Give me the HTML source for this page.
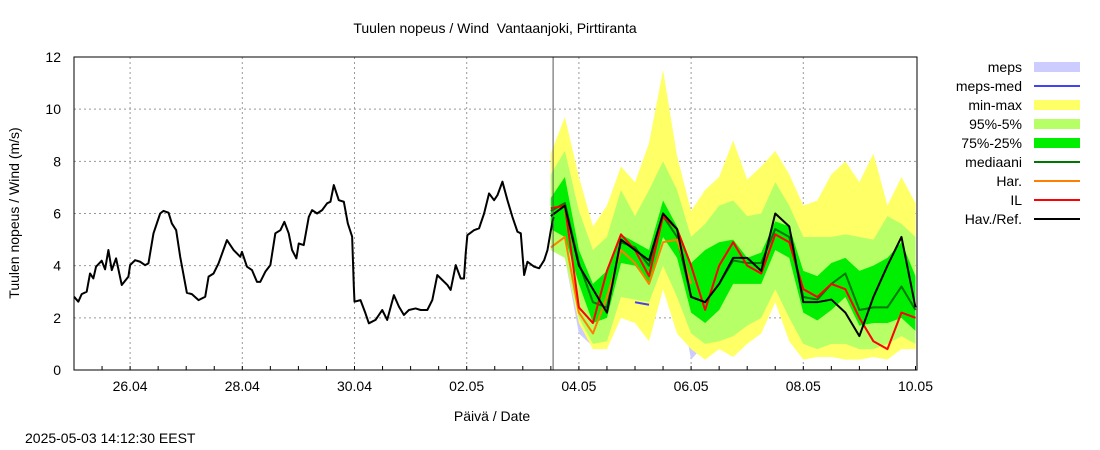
<!DOCTYPE html>
<html><head><meta charset="utf-8"><style>
html,body{margin:0;padding:0;background:#fff;}
svg{display:block;font-family:"Liberation Sans",sans-serif;}
</style></head><body>
<svg id="chart" width="1100" height="450" viewBox="0 0 1100 450" xmlns="http://www.w3.org/2000/svg">
<text x="495" y="33" text-anchor="middle" font-size="14" fill="#000">Tuulen nopeus / Wind &#160;Vantaanjoki, Pirttiranta</text>
<text transform="translate(19,213) rotate(-90)" text-anchor="middle" font-size="14" fill="#000">Tuulen nopeus / Wind (m/s)</text>
<text x="492" y="421" text-anchor="middle" font-size="14" fill="#000">Päivä / Date</text>
<text x="25" y="443" font-size="14" fill="#000">2025-05-03 14:12:30 EEST</text>
<g id="grid"></g><g id="series"></g><g id="axes"></g><g id="legend"></g>
</svg>
<script>
const yTicks=[0,2,4,6,8,10,12];
const xTickLabels=["26.04","28.04","30.04","02.05","04.05","06.05","08.05","10.05"];
const xTickDays=[1,3,5,7,9,11,13,15];
const nowDay=8.54;
const obsDay=[0,.077,.137,.226,.286,.345,.393,.494,.554,.613,.673,.75,.851,.97,1.0,1.089,1.179,1.268,1.327,1.417,1.536,1.595,1.685,1.744,1.821,1.893,2.012,2.101,2.22,2.339,2.399,2.488,2.577,2.726,2.845,2.964,2.994,3.083,3.173,3.262,3.321,3.411,3.5,3.589,3.679,3.75,3.827,3.887,3.964,4.006,4.095,4.185,4.244,4.333,4.423,4.512,4.571,4.631,4.72,4.81,4.881,4.958,4.988,5.0,5.107,5.196,5.256,5.375,5.494,5.583,5.702,5.792,5.881,5.97,6.089,6.179,6.298,6.387,6.476,6.565,6.655,6.714,6.804,6.893,6.952,6.982,7.012,7.131,7.22,7.31,7.399,7.488,7.548,7.637,7.726,7.815,7.905,7.964,8.024,8.083,8.202,8.292,8.381,8.44,8.5,8.548];
const obsVal=[2.81,2.62,2.91,3.0,3.7,3.51,3.96,4.19,3.86,4.6,3.83,4.28,3.26,3.58,4.02,4.21,4.15,4.02,4.09,5.24,6.0,6.1,6.03,5.62,5.36,4.34,2.96,2.91,2.68,2.81,3.58,3.7,4.09,4.98,4.6,4.34,4.53,3.96,3.83,3.38,3.38,3.77,4.02,5.24,5.36,5.68,5.24,4.6,4.28,4.85,4.79,5.87,6.13,6.0,6.13,6.39,6.45,7.09,6.51,6.45,5.62,5.11,3.19,2.62,2.68,2.17,1.79,1.92,2.3,1.92,2.87,2.43,2.11,2.3,2.36,2.3,2.3,2.68,3.64,3.45,3.26,3.07,4.02,3.51,3.51,4.47,5.17,5.36,5.43,6.0,6.77,6.51,6.7,7.22,6.51,5.87,5.3,5.24,3.64,4.15,3.96,3.9,4.21,4.6,5.36,5.87];
const fcHours=[0,6,12,18,24,30,36,42,48,54,60,66,72,78,84,90,96,102,108,114,120,126,132,138,144,150,156];
const fcStartDay=8.5;
const fcMax=[8.3,9.7,7.4,5.5,6.3,7.8,7.2,8.7,11.5,8.2,6.1,6.9,7.4,8.8,7.3,7.8,8.4,7.5,6.3,6.5,7.5,8.0,7.2,8.3,6.3,7.4,6.4];
const fcP95=[7.5,8.4,6.1,4.6,5.1,6.9,5.9,6.9,8.0,6.9,5.1,5.6,6.3,6.5,5.9,6.0,7.2,6.3,5.1,5.1,5.1,5.2,5.1,5.0,5.9,5.6,5.1];
const fcP75=[6.6,7.4,4.6,3.3,3.8,5.2,4.9,4.6,6.5,5.5,4.1,4.6,4.9,5.0,4.3,4.5,5.7,5.5,3.8,3.6,4.1,4.3,3.8,4.0,4.3,4.9,3.6];
const fcMed=[6.1,6.4,4.1,2.6,2.4,4.9,4.7,4.0,5.9,5.1,2.8,2.6,3.3,4.2,4.1,4.1,5.4,5.1,2.8,2.7,3.3,3.7,2.3,2.4,2.4,3.2,2.3];
const fcP25=[5.4,5.1,3.3,1.8,2.0,4.1,4.0,3.3,5.1,4.3,2.2,1.8,2.3,3.3,3.3,3.3,4.6,4.3,2.2,1.9,2.3,2.8,1.7,1.8,1.8,2.0,1.5];
const fcP5=[4.6,4.3,2.0,1.0,1.1,2.8,2.7,2.6,4.0,2.8,1.4,1.0,1.1,1.3,1.7,2.0,3.1,2.0,1.0,0.8,1.0,1.0,0.8,0.8,1.0,1.3,1.0];
const fcMin=[4.6,4.3,1.8,0.8,0.8,2.0,1.8,1.1,3.1,1.4,0.8,0.4,0.8,0.5,1.0,1.4,2.6,1.1,0.4,0.5,0.5,0.4,0.4,0.5,0.4,0.8,0.8];
const mepsLow=[4.6,4.3,1.4,0.9,1.4,2.0,2.2,1.8,3.6,3.3,0.4,1.0,1.1,1.3,1.7,2.0,3.1,2.0,1.0,0.8,1.0,1.0,0.8,0.8,1.0,1.3,1.0];
const mepsHigh=[6.0,6.0,4.0,2.8,2.6,4.8,4.6,4.0,5.8,5.0,2.8,2.6,3.3,4.2,4.1,4.1,5.4,5.1,2.8,2.7,3.3,3.7,2.3,2.4,2.4,3.2,2.3];
const mepsMed=[null,null,2.3,null,null,null,2.6,2.5,null,null,null,null,null,null,null,null,null,null,null,null,null,null,null,null,null,null,null];
const fcHar=[4.7,5.1,2.2,1.4,2.8,4.6,4.1,3.3,4.9,5.0,3.3,null,null,null,null,null,null,null,null,null,null,null,null,null,null,null,null];
const fcIL=[6.2,6.3,2.4,1.8,3.8,5.2,4.6,3.6,5.9,5.4,4.0,2.3,4.0,4.9,4.0,3.7,5.2,4.9,3.1,2.8,3.3,3.1,2.0,1.1,0.8,2.2,2.0];
const fcRef=[5.9,6.3,4.0,3.1,2.2,5.0,4.6,4.2,6.0,5.4,2.8,2.6,3.3,4.3,4.3,3.8,6.0,5.5,2.6,2.6,2.7,2.2,1.3,2.8,4.0,5.1,2.4];
const legendLabels=["meps","meps-med","min-max","95%-5%","75%-25%","mediaani","Har.","IL","Hav./Ref."];
const legendColors=["#ccccff","#4444ee","#ffff66","#b6ff66","#00ee00","#007700","#ff8000","#ff0000","#000000"];
const legendKinds=["box","line","box","box","box","line","line","line","line"];

const NS="http://www.w3.org/2000/svg";
const L=74,R=917,T=57,B=370;
const xs=d=>L+d*56.1;
const ys=v=>B-v*(B-T)/12;
const fcDay=fcHours.map(h=>fcStartDay+h/24);
function mk(tag,attrs,parent){const e=document.createElementNS(NS,tag);for(const k in attrs)e.setAttribute(k,attrs[k]);parent.appendChild(e);return e;}
const grid=document.getElementById('grid'),ser=document.getElementById('series'),axes=document.getElementById('axes'),leg=document.getElementById('legend');

yTicks.forEach(v=>{
  if(v>0&&v<12){const g=mk('line',{x1:L,x2:R,y1:ys(v),y2:ys(v),stroke:'#999','stroke-dasharray':'2,3','stroke-width':1},grid);
  
  }
  const t=mk('text',{x:L-13,y:ys(v)+5,'text-anchor':'end','font-size':14,fill:'#000'},axes);t.textContent=v;
  
  
});
xTickDays.forEach((d,i)=>{
  if(xs(d)<R-3){const g=mk('line',{x1:xs(d),x2:xs(d),y1:T,y2:B,stroke:'#999','stroke-dasharray':'2,3','stroke-width':1},grid);
  
  }
  const t=mk('text',{x:xs(d),y:391,'text-anchor':'middle','font-size':14,fill:'#000'},axes);t.textContent=xTickLabels[i];
  
  
});
for(let d=0.5;d<15.05;d+=0.5){const t=mk('line',{x1:xs(d),x2:xs(d),y1:B,y2:B-4,stroke:'#000'},axes);
  
  }

function band(lo,hi,color,name){
  let p='M'+fcDay.map((d,i)=>xs(d)+','+ys(hi[i])).join('L');
  for(let i=fcDay.length-1;i>=0;i--)p+='L'+xs(fcDay[i])+','+ys(lo[i]);
  const e=mk('path',{d:p+'Z',fill:color,stroke:'none'},ser);
  
  
}
function line(days,vals,color,w,name){
  let p='',pen=false;
  vals.forEach((v,i)=>{if(v==null){pen=false;return;}p+=(pen?'L':'M')+xs(days[i])+','+ys(v);pen=true;});
  const e=mk('path',{d:p,fill:'none',stroke:color,'stroke-width':w,'stroke-linejoin':'round'},ser);
  
  
}
band(mepsLow,mepsHigh,'#ccccff','meps-band');
band(fcMin,fcMax,'#ffff66','min-max-band');
band(fcP5,fcP95,'#b6ff66','p95-p5-band');
band(fcP25,fcP75,'#00ee00','p75-p25-band');
line(fcDay,mepsMed,'#4444ee',2,'meps-med-line');
line(fcDay,fcMed,'#007700',2,'median-line');
line(fcDay,fcHar,'#ff8000',2,'har-line');
line(fcDay,fcIL,'#ff0000',2,'il-line');
line(fcDay,fcRef,'#000000',2,'ref-forecast-line');
line(obsDay,obsVal,'#000000',2,'observed-line');
const nl=mk('line',{x1:xs(nowDay),x2:xs(nowDay),y1:T,y2:B,stroke:'#555','stroke-width':1},ser);


const fr=mk('rect',{x:L,y:T,width:R-L,height:B-T,fill:'none',stroke:'#000','stroke-width':1},axes);



legendLabels.forEach((lab,i)=>{
  const y=67+i*19;
  const t=mk('text',{x:1022,y:y+5,'text-anchor':'end','font-size':14,fill:'#000'},leg);t.textContent=lab;
  
  
  let s;
  if(legendKinds[i]==='box')s=mk('rect',{x:1034,y:y-5,width:46,height:10,fill:legendColors[i]},leg);
  else s=mk('line',{x1:1034,x2:1080,y1:y,y2:y,stroke:legendColors[i],'stroke-width':2},leg);
  
  
});
</script>
</body></html>
